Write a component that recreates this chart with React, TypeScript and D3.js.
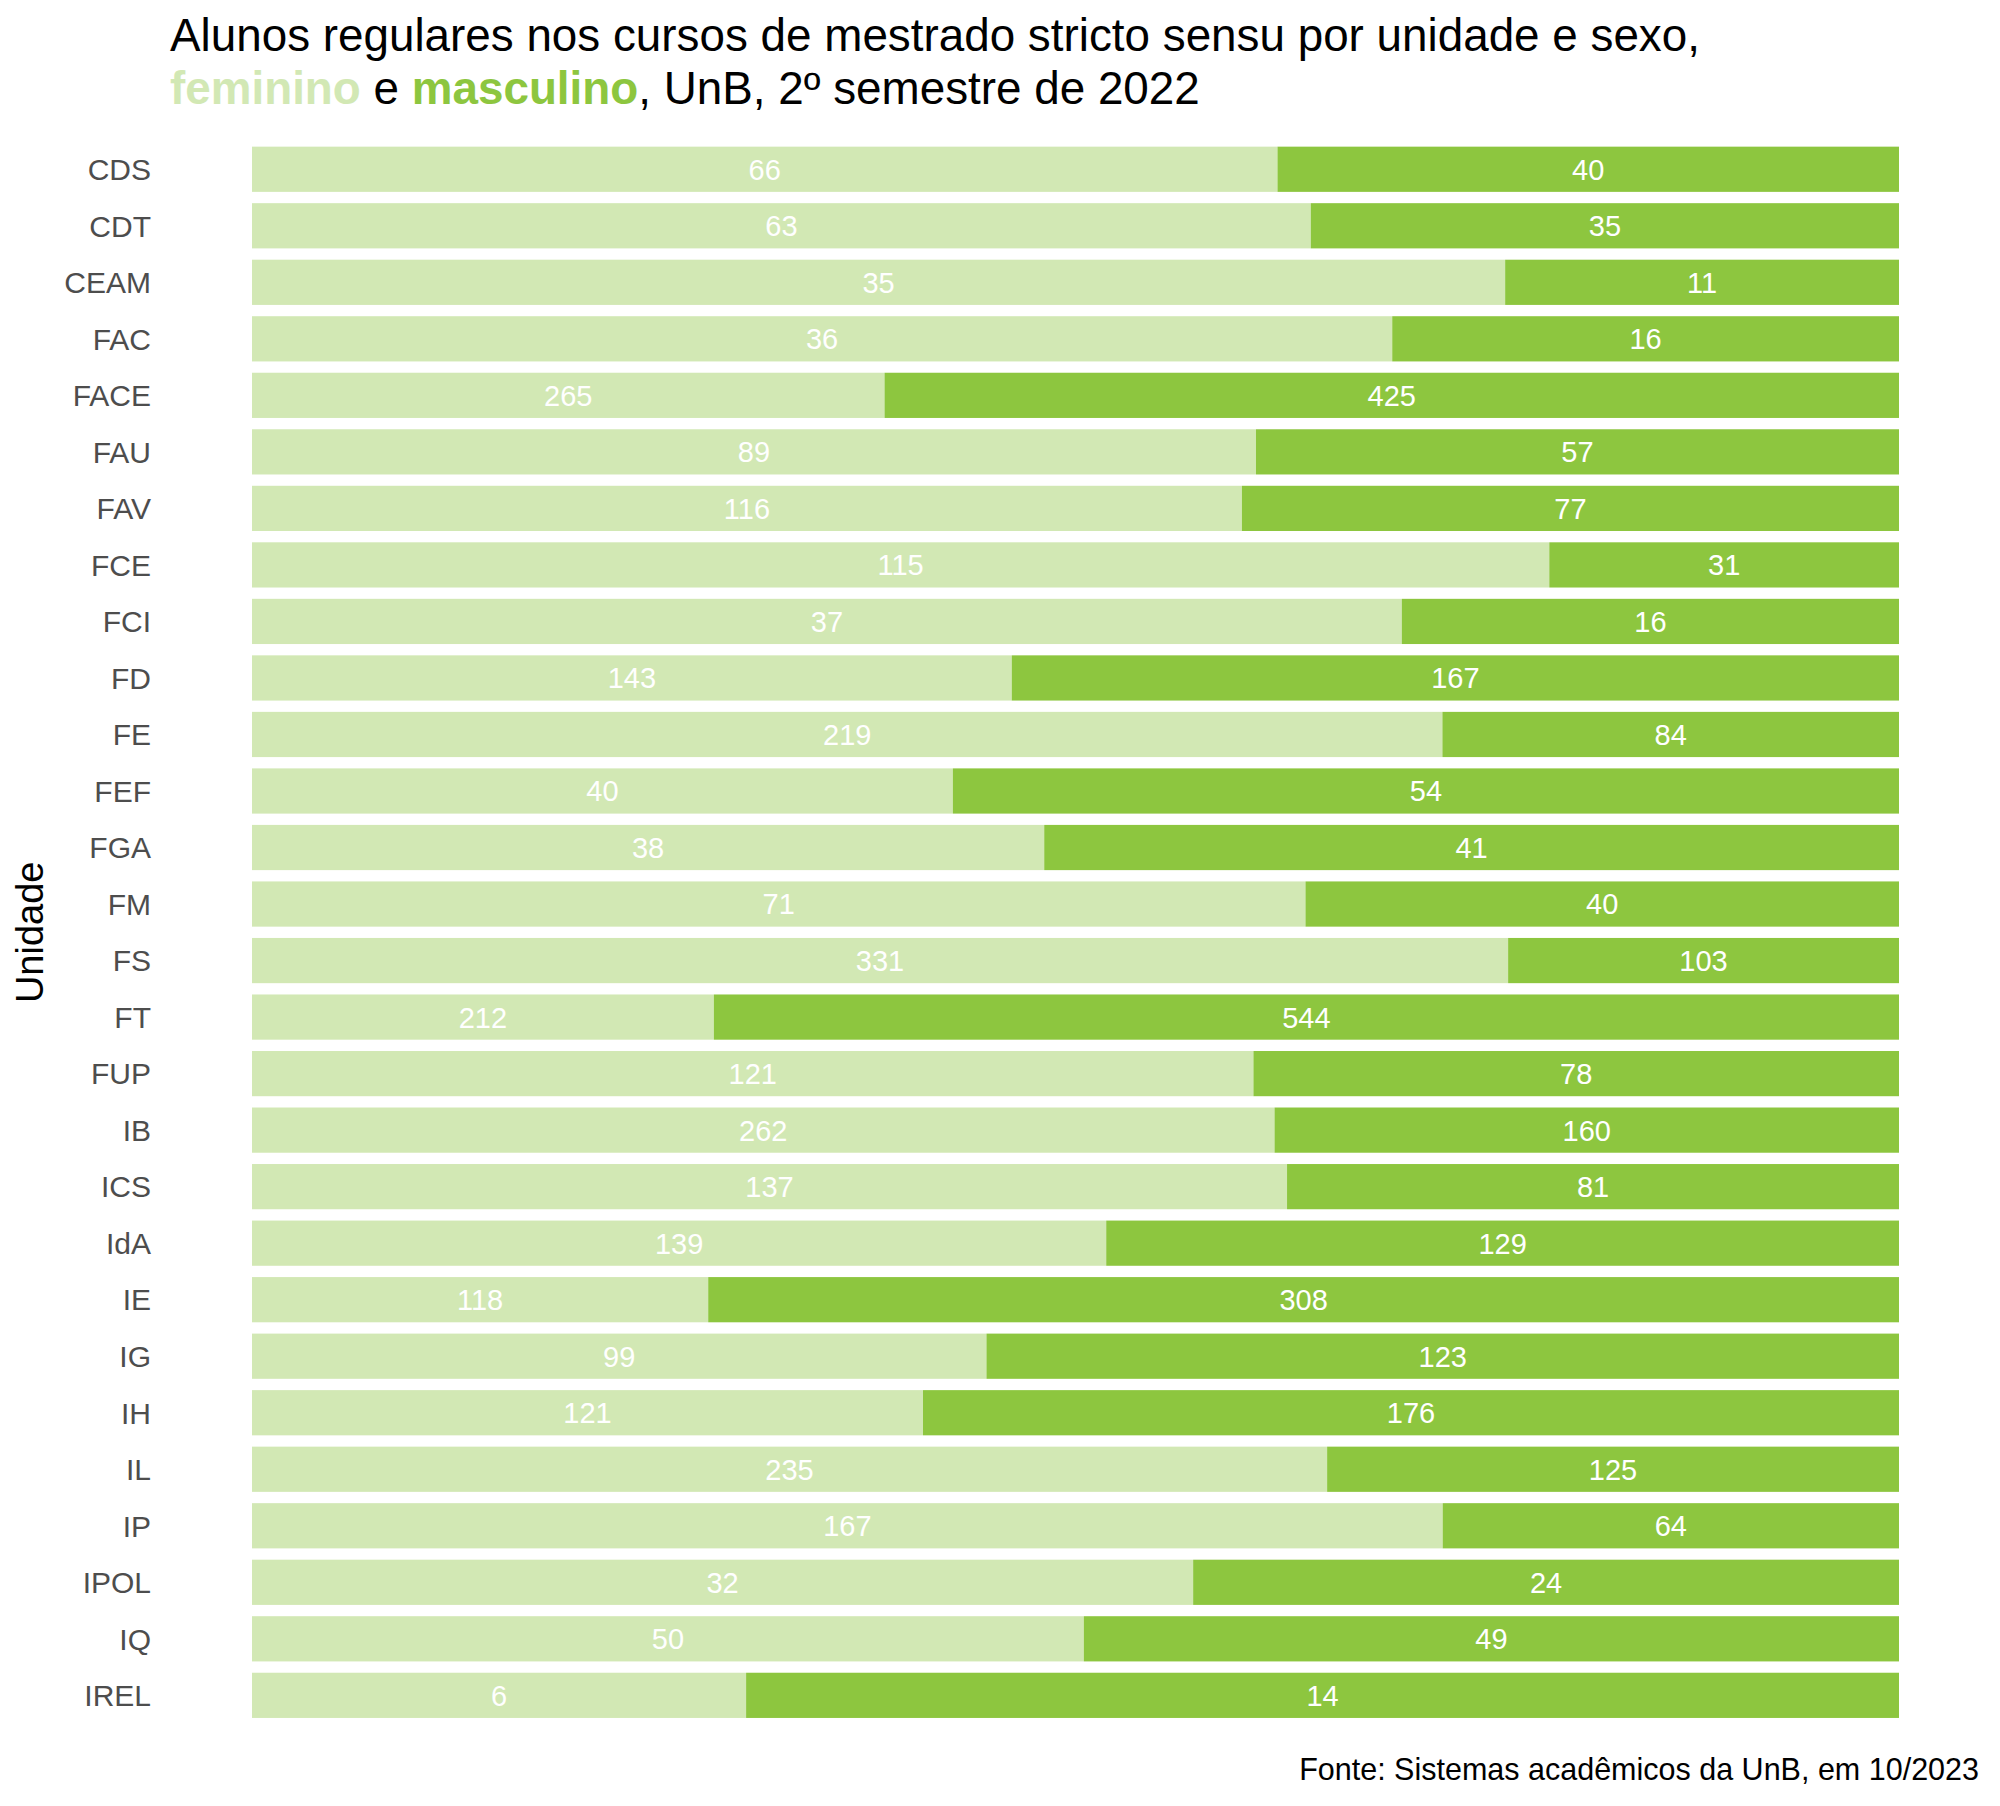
import React from "react";
import * as d3 from "d3";

const units = ["CDS","CDT","CEAM","FAC","FACE","FAU","FAV","FCE","FCI","FD","FE","FEF","FGA","FM","FS","FT","FUP","IB","ICS","IdA","IE","IG","IH","IL","IP","IPOL","IQ","IREL"];
const feminino = [66,63,35,36,265,89,116,115,37,143,219,40,38,71,331,212,121,262,137,139,118,99,121,235,167,32,50,6];
const masculino = [40,35,11,16,425,57,77,31,16,167,84,54,41,40,103,544,78,160,81,129,308,123,176,125,64,24,49,14];

const COL_F = "#d2e8b4";
const COL_M = "#8dc63f";
const FONT = "'Liberation Sans', Arial, Helvetica, sans-serif";

export default function App() {
  const W = 2000, H = 1806;
  const x = d3.scaleLinear().domain([0, 1]).range([252, 1899]);
  const y = d3.scaleBand<string>().domain(units).range([141.0, 1723.6]).paddingInner(0.2).paddingOuter(0.1);
  const bw = y.bandwidth();

  return (
    <svg width={W} height={H} style={{ position: "absolute", left: 0, top: 0 }} fontFamily={FONT}>
      <rect width={W} height={H} fill="#ffffff" />
      <text x={170} y={51} fontSize={45.8} fill="#000">Alunos regulares nos cursos de mestrado stricto sensu por unidade e sexo,</text>
      <text x={170} y={104} fontSize={45.8} fill="#000">
        <tspan fill={COL_F} fontWeight="bold">feminino</tspan>
        <tspan> e </tspan>
        <tspan fill={COL_M} fontWeight="bold">masculino</tspan>
        <tspan>, UnB, 2º semestre de 2022</tspan>
      </text>
      {units.map((u, i) => {
        const f = feminino[i], m = masculino[i];
        const tot = f + m;
        const p = f / tot;
        const y0 = y(u)!;
        const cy = y0 + bw / 2;
        return (
          <g key={u}>
            <rect x={x(0)} y={y0} width={x(p) - x(0)} height={bw} fill={COL_F} />
            <rect x={x(p)} y={y0} width={x(1) - x(p)} height={bw} fill={COL_M} />
            <text x={x(p / 2)} y={cy} dy="0.36em" textAnchor="middle" fontSize={29} fill="#ffffff">{f}</text>
            <text x={x(p + (1 - p) / 2)} y={cy} dy="0.36em" textAnchor="middle" fontSize={29} fill="#ffffff">{m}</text>
            <text x={151} y={cy} dy="0.36em" textAnchor="end" fontSize={30} fill="#4d4d4d">{u}</text>
          </g>
        );
      })}
      <text transform={`translate(43,${(y.range()[0] + y.range()[1]) / 2}) rotate(-90)`} textAnchor="middle" fontSize={38} fill="#000">Unidade</text>
      <text x={1979} y={1780} textAnchor="end" fontSize={30.5} fill="#000">Fonte: Sistemas acadêmicos da UnB, em 10/2023</text>
    </svg>
  );
}
